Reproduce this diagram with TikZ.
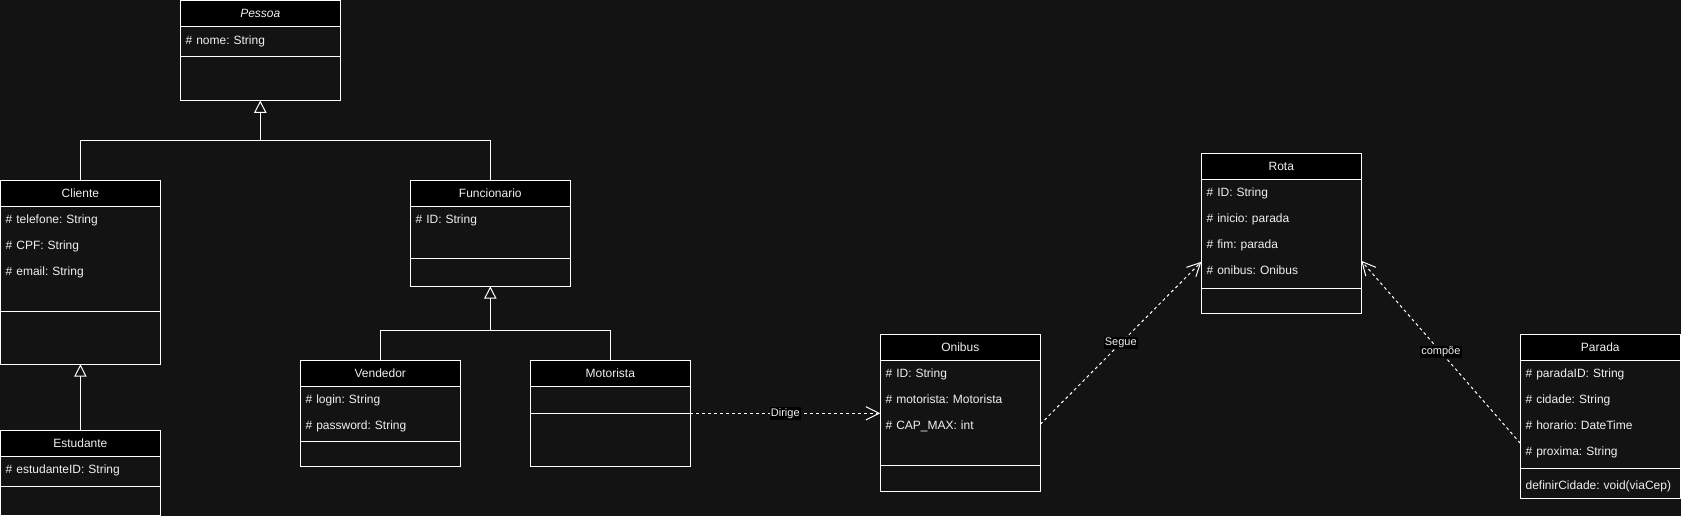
\documentclass[tikz,border=0pt]{standalone}
\usepackage{fontspec}
\setmainfont{Liberation Sans}
\usepackage{tikz}
\usetikzlibrary{arrows.meta, positioning, calc}
\definecolor{canvas}{HTML}{131313}
\definecolor{ink}{HTML}{F0F0F0}
\definecolor{edge}{HTML}{FFFFFF}
\tikzset{
  classhead/.style={
    rectangle, anchor=north west, outer sep=0pt,
    minimum width=120pt, minimum height=19.5pt, inner sep=0pt,
    text height=7.8pt, text depth=1.9pt,
    draw=edge, line width=0.75pt, fill=black,
    text=ink, font=\fontsize{9}{11}\selectfont,
  },
  compart/.style={
    rectangle, outer sep=0pt, inner sep=0pt,
    minimum width=120pt, draw=edge, line width=0.75pt,
  },
  row/.style={
    rectangle, inner sep=0pt, outer sep=0pt,
    minimum height=19.5pt, text width=112pt, align=left,
    text height=8.8pt, text depth=1.9pt,
    text=ink, font=\fontsize{9}{11}\selectfont,
  },
  line/.style={draw=edge, line width=0.75pt},
  gen/.style={line, -{Triangle[open, length=9.2pt, width=9.2pt]}},
  dep/.style={line, dash pattern=on 2.25pt off 2.25pt, -{Straight Barb[length=10pt, width=10pt]}},
  lbl/.style={fill=black, text=ink, inner sep=1pt, font=\fontsize{8.25}{10}\selectfont},
}
\begin{document}
\frenchspacing
\begin{tikzpicture}[x=0.75pt,y=-0.75pt]
  \fill[canvas] (0,0) rectangle (1681,516);
  \useasboundingbox (0,0) rectangle (1681,516);
  % Pessoa
  \node[classhead] (pessoa) at (180.3,0.5) {\textit{Pessoa}};
  \node[compart,minimum height=22.5pt,below=0pt of pessoa] (pessoa-a) {};
  \node[compart,minimum height=33pt,below=0pt of pessoa-a] (pessoa-m) {};
  \node[row,below=0pt of pessoa] (pessoa1) {\# nome: String};
  % Cliente
  \node[classhead] (cliente) at (0.4,180.3) {Cliente};
  \node[compart,minimum height=78.75pt,below=0pt of cliente] (cliente-a) {};
  \node[compart,minimum height=39.75pt,below=0pt of cliente-a] (cliente-m) {};
  \node[row,below=0pt of cliente] (cliente1) {\# telefone: String};
  \node[row,below=0pt of cliente1] (cliente2) {\# CPF: String};
  \node[row,below=0pt of cliente2] (cliente3) {\# email: String};
  % Funcionario
  \node[classhead] (funcionario) at (410.3,180.3) {Funcionario};
  \node[compart,minimum height=39.5pt,below=0pt of funcionario] (funcionario-a) {};
  \node[compart,minimum height=20.5pt,below=0pt of funcionario-a] (funcionario-m) {};
  \node[row,below=0pt of funcionario] (funcionario1) {\# ID: String};
  % Estudante
  \node[classhead] (estudante) at (0.4,430.3) {Estudante};
  \node[compart,minimum height=22.5pt,below=0pt of estudante] (estudante-a) {};
  \node[compart,minimum height=21.75pt,below=0pt of estudante-a] (estudante-m) {};
  \node[row,below=0pt of estudante] (estudante1) {\# estudanteID: String};
  % Vendedor
  \node[classhead] (vendedor) at (300.3,360.3) {Vendedor};
  \node[compart,minimum height=41.25pt,below=0pt of vendedor] (vendedor-a) {};
  \node[compart,minimum height=18.75pt,below=0pt of vendedor-a] (vendedor-m) {};
  \node[row,below=0pt of vendedor] (vendedor1) {\# login: String};
  \node[row,below=0pt of vendedor1] (vendedor2) {\# password: String};
  % Motorista
  \node[classhead] (motorista) at (530.3,360.3) {Motorista};
  \node[compart,minimum height=20.25pt,below=0pt of motorista] (motorista-a) {};
  \node[compart,minimum height=39.75pt,below=0pt of motorista-a] (motorista-m) {};
  % Onibus
  \node[classhead] (onibus) at (880.3,334.3) {Onibus};
  \node[compart,minimum height=78.75pt,below=0pt of onibus] (onibus-a) {};
  \node[compart,minimum height=20pt,below=0pt of onibus-a] (onibus-m) {};
  \node[row,below=0pt of onibus] (onibus1) {\# ID: String};
  \node[row,below=0pt of onibus1] (onibus2) {\# motorista: Motorista};
  \node[row,below=0pt of onibus2] (onibus3) {\# CAP\_MAX: int};
  % Rota
  \node[classhead] (rota) at (1201.3,153.3) {Rota};
  \node[compart,minimum height=81.75pt,below=0pt of rota] (rota-a) {};
  \node[compart,minimum height=18.75pt,below=0pt of rota-a] (rota-m) {};
  \node[row,below=0pt of rota] (rota1) {\# ID: String};
  \node[row,below=0pt of rota1] (rota2) {\# inicio: parada};
  \node[row,below=0pt of rota2] (rota3) {\# fim: parada};
  \node[row,below=0pt of rota3] (rota4) {\# onibus: Onibus};
  % Parada
  \node[classhead] (parada) at (1520.3,334.3) {Parada};
  \node[compart,minimum height=81pt,below=0pt of parada] (parada-a) {};
  \node[compart,minimum height=22.5pt,below=0pt of parada-a] (parada-m) {};
  \node[row,below=0pt of parada] (parada1) {\# paradaID: String};
  \node[row,below=0pt of parada1] (parada2) {\# cidade: String};
  \node[row,below=0pt of parada2] (parada3) {\# horario: DateTime};
  \node[row,below=0pt of parada3] (parada4) {\# proxima: String};
  \node[row,below=2.5pt of parada-a] (parada5) {definirCidade: void(viaCep)};
  % heranca
  \coordinate[below=30pt of pessoa-m.south] (pjoin);
  \coordinate[below=33pt of funcionario-m.south] (fjoin);
  \draw[line] (cliente.north) |- (pjoin) -| (funcionario.north);
  \draw[gen] (pjoin) -- (pessoa-m.south);
  \draw[line] (vendedor.north) |- (fjoin) -| (motorista.north);
  \draw[gen] (fjoin) -- (funcionario-m.south);
  \draw[gen] (estudante.north) -- (estudante.north |- cliente-m.south);
  % dependencias
  \draw[dep] (motorista-a.south east) -- (motorista-a.south east -| onibus-a.west) node[lbl,midway] {Dirige};
  \draw[dep] ($(onibus-a.east)+(0,11.5)$) -- ($(rota-a.west)+(0,28)$) node[lbl,midway] {Segue};
  \draw[dep] ($(parada-a.west)+(0,29)$) -- ($(rota-a.east)+(0,27)$) node[lbl,midway] {compõe};
\end{tikzpicture}
\end{document}
